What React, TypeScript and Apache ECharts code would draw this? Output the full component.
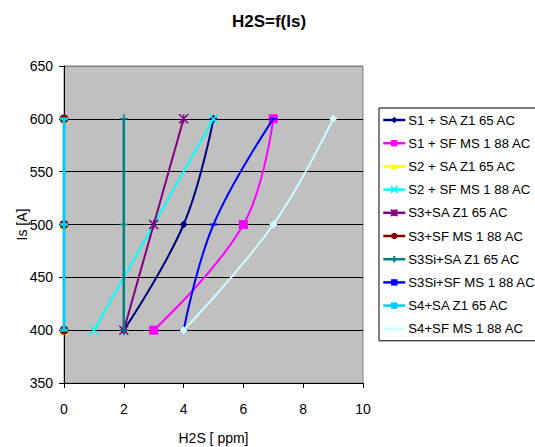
import React, { useEffect, useRef } from "react";
import * as echarts from "echarts";

const isValues = [400, 500, 600];
const seriesNames = [
  "S1 + SA Z1 65 AC",
  "S1 + SF MS 1 88 AC",
  "S2 + SA Z1 65 AC",
  "S2 + SF MS 1 88 AC",
  "S3+SA Z1 65 AC",
  "S3+SF MS 1 88 AC",
  "S3Si+SA Z1 65 AC",
  "S3Si+SF MS 1 88 AC",
  "S4+SA Z1 65 AC",
  "S4+SF MS 1 88 AC",
];
const s1SA = [2, 4, 5];
const s1SF = [3, 6, 7];
const s2SA = [0, 0, 0];
const s2SF = [1, 3, 5];
const s3SA = [2, 3, 4];
const s3SF = [0, 0, 0];
const s3SiSA = [2, 2, 2];
const s3SiSF = [4, 5, 7];
const s4SA = [0, 0, 0];
const s4SF = [4, 7, 9];
const h2sSeries = [s1SA, s1SF, s2SA, s2SF, s3SA, s3SF, s3SiSA, s3SiSF, s4SA, s4SF];
const xTicks = [0, 2, 4, 6, 8, 10];
const yTicks = [350, 400, 450, 500, 550, 600, 650];

const colors = ["#000080", "#FF00FF", "#FFFF00", "#00FFFF", "#800080", "#800000", "#008080", "#0000FF", "#00CCFF", "#CCFFFF"];
const symbols: any[] = [
  "diamond",
  "rect",
  "triangle",
  "path://M0,0L10,10M10,0L0,10",
  "path://M0,0L10,10M10,0L0,10M5,0L5,10",
  "circle",
  "path://M5,0L5,10M0,5L10,5",
  "rect",
  "rect",
  "diamond",
];
const symbolSizes: any[] = [8, 9, 9, 9, 9, 9, 9, [8, 2], [8, 3], 8];
const widths = [2, 2, 2, 2, 2, 2, 2.5, 2, 3, 2];
const strokeSym = [false, false, false, true, true, false, true, false, false, false];

export default function App() {
  const ref = useRef<HTMLDivElement>(null);
  useEffect(() => {
    const chart = echarts.init(ref.current!, undefined, { renderer: "svg" });
    const font = "Liberation Sans, Arial, sans-serif";
    chart.setOption({
      animation: false,
      backgroundColor: "#ffffff",
      textStyle: { fontFamily: font },
      title: {
        text: "H2S=f(Is)",
        left: 264,
        top: 8,
        textAlign: "center",
        textStyle: { fontSize: 17, fontWeight: "bold", color: "#000", fontFamily: font },
      },
      grid: {
        left: 64,
        top: 66,
        width: 299,
        height: 317,
        containLabel: false,
        outerBoundsMode: "none",
        show: true,
        backgroundColor: "#C0C0C0",
        borderColor: "#808080",
        borderWidth: 1,
      },
      xAxis: {
        type: "value",
        min: xTicks[0],
        max: xTicks[xTicks.length - 1],
        interval: 2,
        name: "H2S [ ppm]",
        nameLocation: "middle",
        nameGap: 48,
        nameMoveOverlap: false,
        nameTextStyle: { fontSize: 14, color: "#000", fontFamily: font },
        axisLine: { show: true, onZero: false, lineStyle: { color: "#000", width: 1 } },
        axisTick: { show: true, length: 5, lineStyle: { color: "#000" } },
        axisLabel: { fontSize: 14, color: "#000", margin: 19, fontFamily: font },
        splitLine: { show: false },
      },
      yAxis: {
        type: "value",
        min: yTicks[0],
        max: yTicks[yTicks.length - 1],
        interval: 50,
        name: "Is [A]",
        nameLocation: "middle",
        nameGap: 35,
        nameMoveOverlap: false,
        nameTextStyle: { fontSize: 14, color: "#000", fontFamily: font },
        axisLine: { show: true, onZero: false, lineStyle: { color: "#000", width: 1 } },
        axisTick: { show: true, length: 5, lineStyle: { color: "#000" } },
        axisLabel: { fontSize: 14, color: "#000", margin: 11, fontFamily: font },
        splitLine: {
          show: true,
          lineStyle: { color: ["#000", "#000", "#000", "#000", "#000", "#000", "#808080"], width: 1 },
        },
      },
      legend: {
        orient: "vertical",
        left: 379,
        top: 108,
        padding: [5, 40, 5, 3],
        itemGap: 9.2,
        itemWidth: 22,
        itemHeight: 8,
        borderColor: "#000",
        borderWidth: 1,
        backgroundColor: "#fff",
        lineStyle: { width: 2.5 },
        textStyle: { fontSize: 13.2, lineHeight: 14, color: "#000", fontFamily: font, padding: [0, 0, 0, -2] },
        data: seriesNames,
      },
      series: seriesNames.map((name, i) => ({
        name,
        type: "line",
        smooth: 0.4,
        data: h2sSeries[i].map((x, j) => [x, isValues[j]]),
        symbol: symbols[i],
        symbolSize: symbolSizes[i],
        showSymbol: true,
        lineStyle: { color: colors[i], width: widths[i] },
        itemStyle: {
          color: colors[i],
          borderColor: colors[i],
          borderWidth: strokeSym[i] ? 1.5 : 0,
        },
        z: 2 + i,
      })),
    });
    return () => chart.dispose();
  }, []);
  return <div ref={ref} style={{ width: 535, height: 447, position: "absolute", left: 0, top: 0 }} />;
}
